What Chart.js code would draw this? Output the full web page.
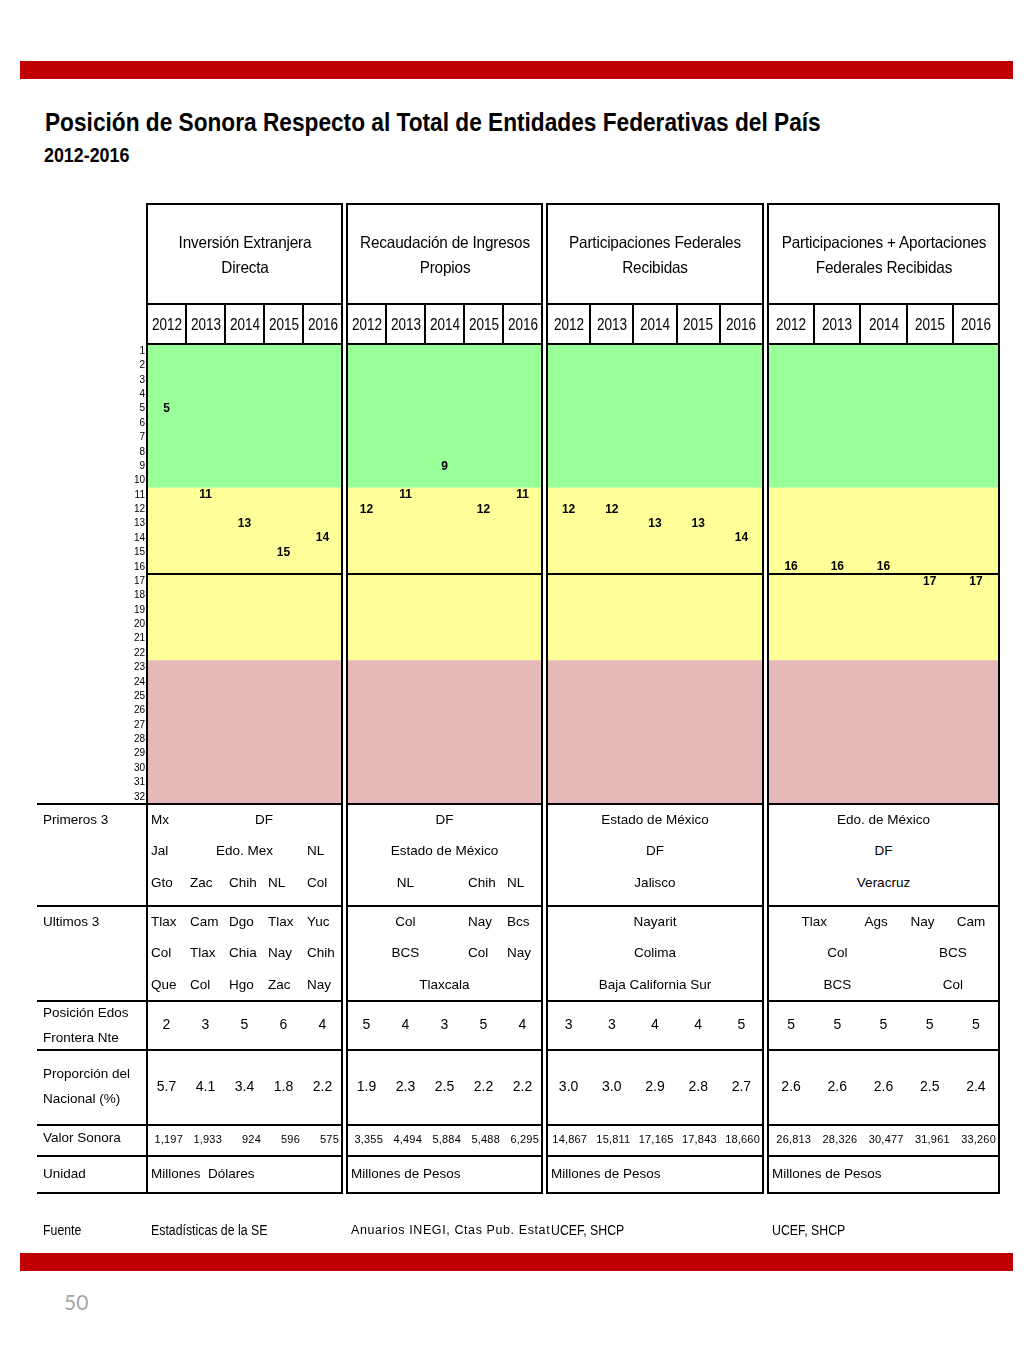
<!DOCTYPE html>
<html>
<head>
<meta charset="utf-8">
<script src="https://cdn.jsdelivr.net/npm/chart.js@4.4.0/dist/chart.umd.min.js"></script>
<style>
  body { margin: 0; background: #fff; width: 1024px; height: 1365px; position: relative; overflow: hidden;
         font-family: "Liberation Sans", Arial, sans-serif; color: #000; }
  .abs { position: absolute; }
  .ln { position: absolute; background: #000; }
  .t { position: absolute; white-space: nowrap; line-height: 1.1; }
</style>
</head>
<body>
<div class="abs" style="left:20px;top:61px;width:993px;height:18px;background:#c00000"></div>
<div class="abs" style="left:20px;top:1253px;width:993px;height:18px;background:#c00000"></div>
<div id="charts"></div>
<div id="table"></div>

<script>
// ---- data ----
const years = ['2012', '2013', '2014', '2015', '2016'];
const rankTicks = [1, 2, 3, 4, 5, 6, 7, 8, 9, 10, 11, 12, 13, 14, 15, 16,
                   17, 18, 19, 20, 21, 22, 23, 24, 25, 26, 27, 28, 29, 30, 31, 32];
const groupTitles = [
    ['Inversión Extranjera', 'Directa'],
    ['Recaudación de Ingresos', 'Propios'],
    ['Participaciones Federales', 'Recibidas'],
    ['Participaciones + Aportaciones', 'Federales Recibidas']
];
const posInversion = [5, 11, 13, 15, 14];
const posRecaudacion = [12, 11, 9, 12, 11];
const posParticipaciones = [12, 12, 13, 13, 14];
const posPartAport = [16, 16, 16, 17, 17];
const positions = [posInversion, posRecaudacion, posParticipaciones, posPartAport];

const fronteraNte = [[2, 3, 5, 6, 4], [5, 4, 3, 5, 4], [3, 3, 4, 4, 5], [5, 5, 5, 5, 5]];
const proporcion = [
    ['5.7', '4.1', '3.4', '1.8', '2.2'],
    ['1.9', '2.3', '2.5', '2.2', '2.2'],
    ['3.0', '3.0', '2.9', '2.8', '2.7'],
    ['2.6', '2.6', '2.6', '2.5', '2.4']
];
const valorSonora = [
    ['1,197', '1,933', '924', '596', '575'],
    ['3,355', '4,494', '5,884', '5,488', '6,295'],
    ['14,867', '15,811', '17,165', '17,843', '18,660'],
    ['26,813', '28,326', '30,477', '31,961', '33,260']
];
const unidad = ['Millones  Dólares', 'Millones de Pesos', 'Millones de Pesos', 'Millones de Pesos'];
const fuente = ['Estadísticas de la SE', 'Anuarios INEGI, Ctas Pub. Estatales', 'UCEF, SHCP', 'UCEF, SHCP'];

// [text, first column, columns spanned, align]
const primeros = [
    [[['Mx', 0, 1, 'l'], ['DF', 1, 4, 'c']],
     [['Jal', 0, 1, 'l'], ['Edo. Mex', 1, 3, 'c'], ['NL', 4, 1, 'l']],
     [['Gto', 0, 1, 'l'], ['Zac', 1, 1, 'l'], ['Chih', 2, 1, 'l'], ['NL', 3, 1, 'l'], ['Col', 4, 1, 'l']]],
    [[['DF', 0, 5, 'c']],
     [['Estado de México', 0, 5, 'c']],
     [['NL', 1, 1, 'c'], ['Chih', 3, 1, 'l'], ['NL', 4, 1, 'l']]],
    [[['Estado de México', 0, 5, 'c']], [['DF', 0, 5, 'c']], [['Jalisco', 0, 5, 'c']]],
    [[['Edo. de México', 0, 5, 'c']], [['DF', 0, 5, 'c']], [['Veracruz', 0, 5, 'c']]]
];
const ultimos = [
    [[['Tlax', 0, 1, 'l'], ['Cam', 1, 1, 'l'], ['Dgo', 2, 1, 'l'], ['Tlax', 3, 1, 'l'], ['Yuc', 4, 1, 'l']],
     [['Col', 0, 1, 'l'], ['Tlax', 1, 1, 'l'], ['Chia', 2, 1, 'l'], ['Nay', 3, 1, 'l'], ['Chih', 4, 1, 'l']],
     [['Que', 0, 1, 'l'], ['Col', 1, 1, 'l'], ['Hgo', 2, 1, 'l'], ['Zac', 3, 1, 'l'], ['Nay', 4, 1, 'l']]],
    [[['Col', 1, 1, 'c'], ['Nay', 3, 1, 'l'], ['Bcs', 4, 1, 'l']],
     [['BCS', 1, 1, 'c'], ['Col', 3, 1, 'l'], ['Nay', 4, 1, 'l']],
     [['Tlaxcala', 0, 5, 'c']]],
    [[['Nayarit', 0, 5, 'c']], [['Colima', 0, 5, 'c']], [['Baja California Sur', 0, 5, 'c']]],
    [[['Tlax', 0, 2, 'c'], ['Ags', 2, 1, 'l'], ['Nay', 3, 1, 'l'], ['Cam', 4, 1, 'l']],
     [['Col', 1, 1, 'c'], ['BCS', 3, 2, 'c']],
     [['BCS', 1, 1, 'c'], ['Col', 3, 2, 'c']]]
];

// ---- layout ----
const groups = [[147, 342], [347, 542], [547, 763], [768, 999]];
const topY = 204, headY = 304, yearY = 344, plotBottom = 804;
const rowLines = [804, 906, 1001, 1050, 1125, 1156, 1193];
const labelLeft = 38;

const table = document.getElementById('table');
function hline(x1, x2, y) {
    const d = document.createElement('div');
    d.className = 'ln';
    d.style.cssText = `left:${x1 - 1}px;top:${y - 1}px;width:${x2 - x1 + 2}px;height:2px`;
    table.appendChild(d);
}
function vline(x, y1, y2) {
    const d = document.createElement('div');
    d.className = 'ln';
    d.style.cssText = `left:${x - 1}px;top:${y1 - 1}px;width:2px;height:${y2 - y1 + 2}px`;
    table.appendChild(d);
}
function text(str, x, y, align, size, extra, sx) {
    const d = document.createElement('div');
    d.className = 't';
    d.textContent = str;
    sx = sx || 1;
    let tr = 'translateY(-50%)', origin = 'left center';
    if (align === 'c') { tr = 'translate(-50%,-50%)'; origin = 'center center'; }
    if (align === 'r') { tr = 'translate(-100%,-50%)'; origin = 'right center'; }
    d.style.cssText = `left:${x}px;top:${y}px;font-size:${size}px;transform:${tr} scaleX(${sx});` +
        `transform-origin:${origin};` + (extra || '');
    table.appendChild(d);
    return d;
}
function colEdges(g) {
    const [L, R] = groups[g];
    return years.map((_, i) => L + (R - L) * i / years.length).concat([R]);
}

// titles
text('Posición de Sonora Respecto al Total de Entidades Federativas del País', 45, 122, 'l', 26,
    'font-weight:bold', 0.872);
text('2012-2016', 44, 155, 'l', 21, 'font-weight:bold', 0.85);
text('50', 64, 1302, 'l', 21, "color:#a6a6a6;font-family:Lato,'Open Sans',sans-serif");

// frame
groups.forEach(([L, R], g) => {
    vline(L, topY, rowLines[rowLines.length - 1]);
    vline(R, topY, rowLines[rowLines.length - 1]);
    [topY, headY, yearY].concat(rowLines).forEach(y => hline(L, R, y));
    const e = colEdges(g);
    e.slice(1, -1).forEach(x => vline(x, headY, yearY));
});
rowLines.forEach(y => hline(labelLeft, groups[0][0], y));

// header texts
groups.forEach(([L, R], g) => {
    const cx = (L + R) / 2;
    text(groupTitles[g][0], cx, 242, 'c', 16.5, 'letter-spacing:-0.2px', 0.93);
    text(groupTitles[g][1], cx, 267, 'c', 16.5, 'letter-spacing:-0.2px', 0.93);
    const e = colEdges(g);
    years.forEach((y, i) => text(y, (e[i] + e[i + 1]) / 2, 324, 'c', 16.5, '', 0.82));
});

// row labels
const bodySize = 13.5;
text('Primeros 3', 43, 820, 'l', bodySize);
text('Ultimos 3', 43, 922, 'l', bodySize);
text('Posición Edos', 43, 1013, 'l', bodySize);
text('Frontera Nte', 43, 1038, 'l', bodySize);
text('Proporción del', 43, 1074, 'l', bodySize);
text('Nacional (%)', 43, 1099, 'l', bodySize);
text('Valor Sonora', 43, 1138, 'l', bodySize);
text('Unidad', 43, 1174, 'l', bodySize);
text('Fuente', 43, 1231, 'l', 14, '', 0.88);

function placeCells(rows, g, ys) {
    const e = colEdges(g);
    rows.forEach((row, r) => {
        row.forEach(([str, c0, span, align]) => {
            if (align === 'c') text(str, (e[c0] + e[c0 + span]) / 2, ys[r], 'c', bodySize);
            else text(str, e[c0] + 4, ys[r], 'l', bodySize);
        });
    });
}
groups.forEach(([L, R], g) => {
    placeCells(primeros[g], g, [820, 851, 883]);
    placeCells(ultimos[g], g, [922, 953, 985]);
    const e = colEdges(g);
    years.forEach((_, i) => {
        const cx = (e[i] + e[i + 1]) / 2;
        text(String(fronteraNte[g][i]), cx, 1025, 'c', 14);
        text(proporcion[g][i], cx, 1087, 'c', 14);
        text(valorSonora[g][i], e[i + 1] - 3, 1139, 'r', 11, 'letter-spacing:0.2px');
    });
    text(unidad[g], L + 4, 1174, 'l', bodySize, 'white-space:pre');
    if (g === 1) {
        text(fuente[g], L + 4, 1231, 'l', 12.5, 'letter-spacing:0.6px;overflow:hidden;width:199px');
    } else {
        text(fuente[g], L + 4, 1231, 'l', 14, '', 0.88);
    }
});

// ---- charts ----
Chart.defaults.font.family = '"Liberation Sans", Arial, sans-serif';
const tickWidth = 27;
const pad = 10;
const bandPlugin = {
    id: 'bands',
    beforeDatasetsDraw(chart) {
        const { ctx, chartArea: a, scales: { y } } = chart;
        const bands = [[0.5, 10.5, '#99ff99'], [10.5, 22.5, '#ffff99'], [22.5, 32.5, '#e6b8b7']];
        ctx.save();
        bands.forEach(([from, to, col]) => {
            const y1 = y.getPixelForValue(from), y2 = y.getPixelForValue(to);
            ctx.fillStyle = col;
            ctx.fillRect(a.left, y1, a.right - a.left, y2 - y1);
        });
        ctx.strokeStyle = '#000';
        ctx.lineWidth = 2;
        const ym = y.getPixelForValue(16.5);
        ctx.beginPath();
        ctx.moveTo(a.left, ym);
        ctx.lineTo(a.right, ym);
        ctx.stroke();
        ctx.restore();
    },
    afterDatasetsDraw(chart) {
        const { ctx } = chart;
        const meta = chart.getDatasetMeta(0);
        const values = chart.data.datasets[0].data;
        ctx.save();
        ctx.font = 'bold 12px "Liberation Sans", Arial, sans-serif';
        ctx.fillStyle = '#000';
        ctx.textAlign = 'center';
        ctx.textBaseline = 'middle';
        meta.data.forEach((pt, i) => ctx.fillText(String(values[i]), pt.x, pt.y));
        ctx.restore();
    }
};

const chartsDiv = document.getElementById('charts');
groups.forEach(([L, R], g) => {
    const withTicks = g === 0;
    const left = withTicks ? L - tickWidth : L;
    const w = R - left, h = plotBottom - yearY + 2 * pad;
    const canvas = document.createElement('canvas');
    canvas.width = w;
    canvas.height = h;
    canvas.style.cssText = `position:absolute;left:${left}px;top:${yearY - pad}px;width:${w}px;height:${h}px`;
    chartsDiv.appendChild(canvas);
    new Chart(canvas, {
        type: 'line',
        data: {
            labels: years,
            datasets: [{ data: positions[g], showLine: false, pointRadius: 0 }]
        },
        options: {
            responsive: false,
            animation: false,
            events: [],
            layout: { padding: { top: pad, bottom: pad, left: 0, right: 0 } },
            plugins: { legend: { display: false }, tooltip: { enabled: false } },
            scales: {
                x: { type: 'category', offset: true, display: false },
                y: {
                    display: withTicks,
                    reverse: true,
                    min: 0.5,
                    max: 32.5,
                    afterBuildTicks: axis => { axis.ticks = rankTicks.map(v => ({ value: v })); },
                    afterFit: axis => { if (withTicks) axis.width = tickWidth; },
                    grid: { display: false, drawTicks: false },
                    border: { display: false },
                    ticks: { color: '#000', font: { size: 10 }, padding: 2, autoSkip: false }
                }
            }
        },
        plugins: [bandPlugin]
    });
});
</script>
</body>
</html>
